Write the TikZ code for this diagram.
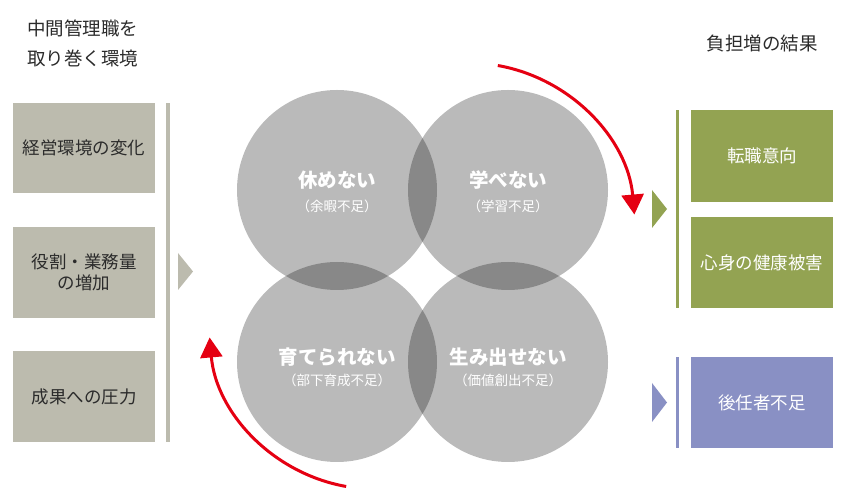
\documentclass[tikz,border=0pt]{standalone}
\usepackage{fontspec}
\setmainfont{Noto Sans CJK JP}
\usetikzlibrary{arrows.meta}
\definecolor{greige}{HTML}{BCBBAE}
\definecolor{olive}{HTML}{93A352}
\definecolor{lav}{HTML}{8990C4}
\definecolor{ink}{HTML}{2B2B2B}
\definecolor{arrowred}{HTML}{E50012}
\tikzset{
  sidebox/.style={rectangle, minimum width=142pt, inner sep=0pt, align=center, font=\fontsize{17.5}{21}\selectfont},
  leftbox/.style={sidebox, fill=greige, text=ink},
  greenbox/.style={sidebox, fill=olive, text=white},
  purplebox/.style={sidebox, fill=lav, text=white},
  ring/.style={circle, minimum size=200pt, inner sep=0pt, fill=black, fill opacity=0.27},
  maintext/.style={text=white, font=\fontsize{19.5}{22}\selectfont\bfseries},
  subtext/.style={text=white, font=\fontsize{13.5}{15}\selectfont},
  title/.style={text=ink, font=\fontsize{18.5}{30}\selectfont, inner sep=0pt},
  redarrow/.style={draw=arrowred, line width=3pt, -{Triangle[width=22pt,length=20pt]}}
}
\begin{document}
\begin{tikzpicture}[x=1pt,y=1pt]
\useasboundingbox (0,0) rectangle (846,500);
% titles
\node[title, anchor=west] (tl1) at (27,472) {中間管理職を};
\node[title, anchor=west] (tl2) at (27,442) {取り巻く環境};
\node[title] (tr) at (762,457) {負担増の結果};
% left boxes
\node[leftbox, minimum height=90pt] (l1) at (84,352) {経営環境の変化};
\node[leftbox, minimum height=91pt] (l2) at (84,227.5) {役割・業務量\\の増加};
\node[leftbox, minimum height=91pt] (l3) at (84,103.5) {成果への圧力};
\fill[greige] (166,397) rectangle (170,58);
\fill[greige] (178,247) -- (193,228.5) -- (178,210) -- cycle;
% circles
\node[ring] (c1) at (337,310) {};
\node[ring] (c2) at (508,310) {};
\node[ring] (c3) at (337,138) {};
\node[ring] (c4) at (508,138) {};
\node[maintext] (t1) at (337,320) {休めない};
\node[subtext] (s1) at (337,294) {（余暇不足）};
\node[maintext] (t2) at (508,320) {学べない};
\node[subtext] (s2) at (508,294) {（学習不足）};
\node[maintext] (t3) at (337,143) {育てられない};
\node[subtext] (s3) at (337,120) {（部下育成不足）};
\node[maintext] (t4) at (508,143) {生み出せない};
\node[subtext] (s4) at (508,120) {（価値創出不足）};
% red arrows
\draw[redarrow] (469,271) ++(80:166) arc[start angle=80, end angle=5, radius=166];
\draw[redarrow] (375,177) ++(260:166) arc[start angle=260, end angle=185, radius=166];
% right side
\fill[olive] (676,390) rectangle (679,192);
\fill[olive] (652,310) -- (667,291) -- (652,272) -- cycle;
\node[greenbox, minimum height=92pt] (r1) at (762,344) {転職意向};
\node[greenbox, minimum height=91pt] (r2) at (762,237.5) {心身の健康被害};
\fill[lav] (676,143) rectangle (679,52);
\fill[lav] (652,117) -- (667,97.5) -- (652,78) -- cycle;
\node[purplebox, minimum height=91pt] (r3) at (762,97.5) {後任者不足};
\end{tikzpicture}
\end{document}
